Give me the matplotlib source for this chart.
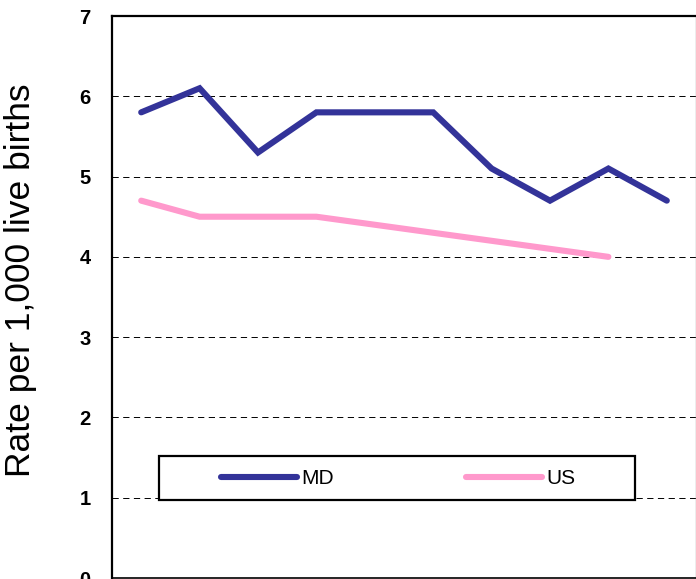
import matplotlib.pyplot as plt
import matplotlib.patches as mpatches
import numpy as np

plt.rcParams['font.family'] = ['Liberation Sans', 'DejaVu Sans']
plt.rcParams['lines.scale_dashes'] = False

# infant mortality style rates, one value per period (x labels are cut off in the source)
md_rate = [5.8, 6.1, 5.3, 5.8, 5.8, 5.8, 5.1, 4.7, 5.1, 4.7]
us_rate = [4.7, 4.5, 4.5, 4.5, 4.4, 4.3, 4.2, 4.1, 4.0]
series_names = ['MD', 'US']
yticks = [0, 1, 2, 3, 4, 5, 6, 7]

W, H = 696, 579
fig = plt.figure(figsize=(W / 100, H / 100), dpi=100)
ax = fig.add_axes([112 / W, (H - 578) / H, 584 / W, 562 / H])

x_md = np.arange(len(md_rate))
x_us = np.arange(len(us_rate))
ax.plot(x_md, md_rate, color='#333399', lw=4.4, solid_capstyle='round',
        solid_joinstyle='miter', label=series_names[0], zorder=3)
ax.plot(x_us, us_rate, color='#ff99cc', lw=4.4, solid_capstyle='round',
        solid_joinstyle='miter', label=series_names[1], zorder=3)

ax.set_xlim(-0.5, len(md_rate) - 0.5)
ax.set_ylim(0, 7)
ax.set_yticks(yticks)
ax.set_yticklabels([str(t) for t in yticks], fontsize=14.5, fontweight='bold')
ax.tick_params(axis='y', length=0, pad=15.5)
ax.set_xticks([])

ax.yaxis.grid(True, color='black', lw=0.7, linestyle=(0, (4.5, 3.2)))
ax.set_axisbelow(True)

for s in ['left', 'top']:
    ax.spines[s].set_linewidth(1.6)
    ax.spines[s].set_color('black')
ax.spines['bottom'].set_linewidth(1.2)
ax.spines['right'].set_color('#a8a8a8')
ax.spines['right'].set_linewidth(1.0)

# legend box
box = mpatches.Rectangle((47 / 584, 78 / 562), 476 / 584, 44 / 562, transform=ax.transAxes,
                         facecolor='white', edgecolor='black', lw=1.6, zorder=4)
ax.add_patch(box)
leg = ax.legend(loc='center', bbox_to_anchor=(0.4905, 0.177), ncol=2, frameon=False,
                fontsize=15, handlelength=3.65, handletextpad=0.2, columnspacing=6.35)
leg.set_zorder(5)

fig.text(21 / W, 1 - 280 / H, 'Rate per 1,000 live births', rotation=90,
         ha='center', va='center', fontsize=25.5)

plt.savefig('out.png', dpi=100)
